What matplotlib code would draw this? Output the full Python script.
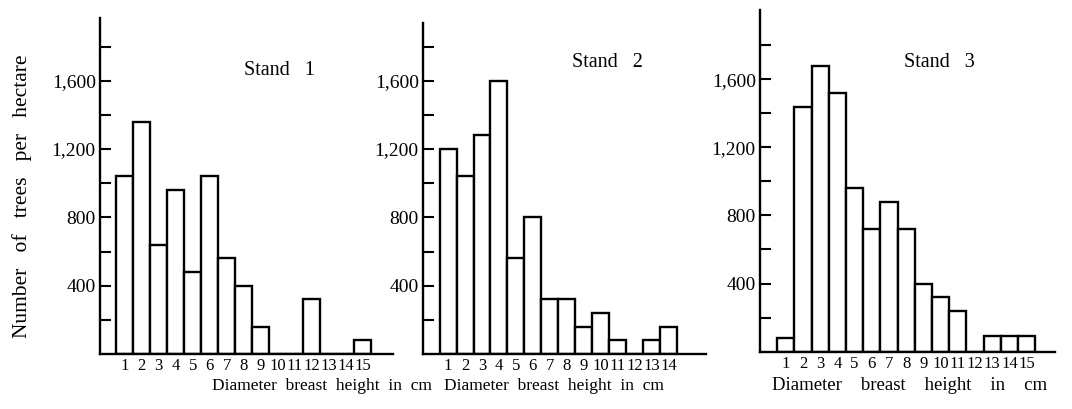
import matplotlib
matplotlib.use('Agg')
import matplotlib.pyplot as plt
from matplotlib.ticker import FixedLocator, FuncFormatter

plt.rcParams['font.family'] = ['Liberation Serif', 'DejaVu Serif']

# Diameter classes (cm) and number of trees per hectare
classes_1 = list(range(1, 16))
stand_1 = [1040, 1360, 640, 960, 480, 1040, 560, 400, 160, 0, 0, 320, 0, 0, 80]

classes_2 = list(range(1, 15))
stand_2 = [1200, 1040, 1280, 1600, 560, 800, 320, 320, 160, 240, 80, 0, 80, 160]

classes_3 = list(range(1, 16))
stand_3 = [80, 1440, 1680, 1520, 960, 720, 880, 720, 400, 320, 240, 0, 90, 90, 90]

titles = ['Stand   1', 'Stand   2', 'Stand   3']
xlabels = ['Diameter  breast  height  in  cm',
           'Diameter  breast  height  in  cm',
           'Diameter    breast    height    in    cm']
ylabel = 'Number   of   trees   per   hectare'
major_y = [400, 800, 1200, 1600]
minor_y = [200, 600, 1000, 1400, 1800]

W, H = 1072, 409
fig = plt.figure(figsize=(W / 100, H / 100), dpi=100)

# pixel layout: axis x, baseline y (from top), xlim, px per class, ylim top, px per tree
layout = [
    dict(ax_x=100, base=354, xlim=(-0.45, 16.8), unit=17.0, ytop=1970, ys=0.1708,
         title_xy=(10.1, 1660), xlab_x=322, xlab_fs=12.5),
    dict(ax_x=423, base=354, xlim=(-0.48, 16.2), unit=16.95, ytop=1940, ys=0.1708,
         title_xy=(10.4, 1705), xlab_x=554, xlab_fs=12.5),
    dict(ax_x=760, base=351.5, xlim=(-0.5, 16.65), unit=17.2, ytop=2010, ys=0.170,
         title_xy=(9.95, 1700), xlab_x=910, xlab_fs=13.5),
]
data = [(classes_1, stand_1), (classes_2, stand_2), (classes_3, stand_3)]

for i, (lay, (cls, vals)) in enumerate(zip(layout, data)):
    w_px = (lay['xlim'][1] - lay['xlim'][0]) * lay['unit']
    h_px = lay['ytop'] * lay['ys']
    ax = fig.add_axes([lay['ax_x'] / W, (H - lay['base']) / H, w_px / W, h_px / H])
    ax.bar(cls, vals, width=1.0, color='white', edgecolor='black', linewidth=1.7,
           joinstyle='miter', zorder=3)
    ax.set_xlim(*lay['xlim'])
    ax.set_ylim(0, lay['ytop'])
    for s in ['top', 'right']:
        ax.spines[s].set_visible(False)
    for s in ['left', 'bottom']:
        ax.spines[s].set_linewidth(1.7)
        ax.spines[s].set_zorder(4)

    ax.set_xticks(cls)
    ax.set_xticklabels([str(c) for c in cls], fontsize=12)
    ax.tick_params(axis='x', length=0, pad=3)

    ax.yaxis.set_major_locator(FixedLocator(major_y))
    ax.yaxis.set_minor_locator(FixedLocator(minor_y))
    ax.yaxis.set_major_formatter(FuncFormatter(lambda v, p: f'{int(v):,}'))
    ax.tick_params(axis='y', which='both', direction='in', length=8, width=1.5, pad=3)
    ax.tick_params(axis='y', which='major', labelsize=14)

    ax.text(lay['title_xy'][0], lay['title_xy'][1], titles[i], fontsize=14.5,
            ha='center', va='center')
    fig.text(lay['xlab_x'] / W, 1 - 386 / H, xlabels[i], fontsize=lay['xlab_fs'],
             ha='center', va='center')

fig.text(22 / W, 1 - 196 / H, ylabel, fontsize=15.5, rotation=90, ha='center', va='center')

fig.savefig('out.png', dpi=100)
